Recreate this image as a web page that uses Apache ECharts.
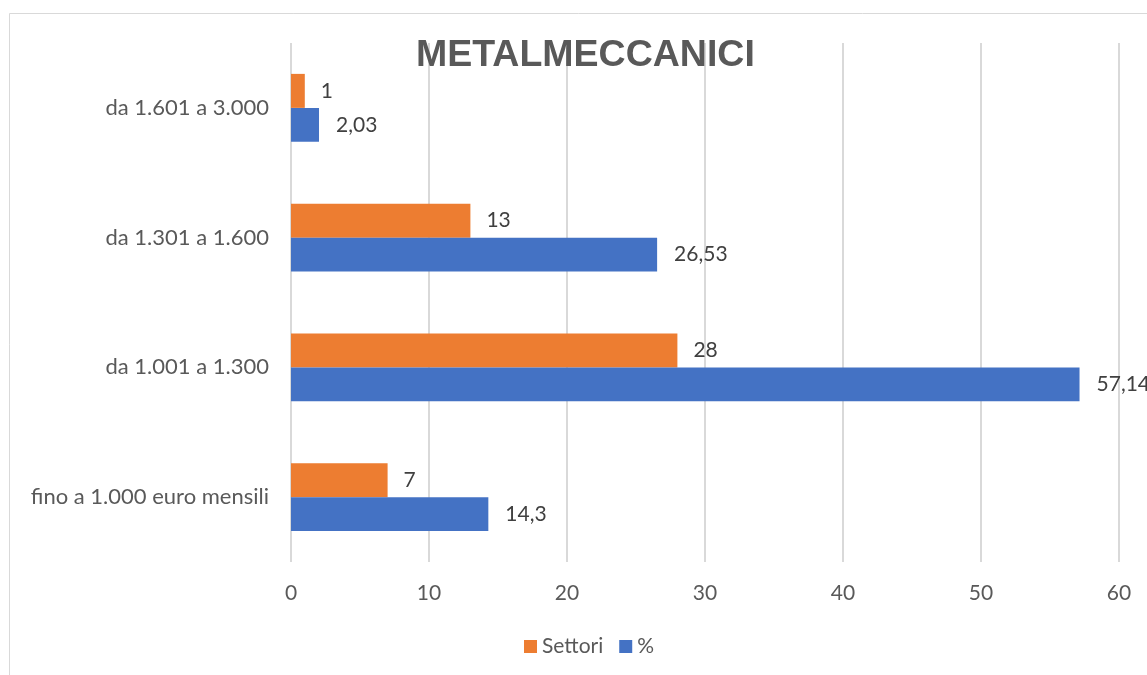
<!DOCTYPE html>
<html><head><meta charset="utf-8">
<script src="https://cdn.jsdelivr.net/npm/echarts@6/dist/echarts.min.js"></script>
<style>html,body{margin:0;padding:0;background:#fff}#c{width:1147px;height:675px}</style>
</head><body><div id="c"></div>
<script>
const categories = ['fino a 1.000 euro mensili', 'da 1.001 a 1.300', 'da 1.301 a 1.600', 'da 1.601 a 3.000'];
const settori = [7, 28, 13, 1];
const percent = [14.3, 57.14, 26.53, 2.03];
const xTicks = [0, 10, 20, 30, 40, 50, 60];

const fmt = v => String(v).replace('.', ',');
const font = 'Lato';
const fs = 21;
const chart = echarts.init(document.getElementById('c'), null, {renderer: 'canvas'});
chart.setOption({
  animation: false,
  backgroundColor: '#fff',
  title: {
    text: 'METALMECCANICI', left: 411, top: 32,
    textStyle: {fontFamily: 'Liberation Sans', fontWeight: 'bold', fontSize: 37.5, color: '#595959'}
  },
  legend: {
    data: ['Settori', '%'], bottom: 13, left: 519,
    itemWidth: 13, itemHeight: 13, itemGap: 16, icon: 'rect',
    textStyle: {fontFamily: font, fontSize: fs, color: '#595959'}
  },
  grid: {left: 291, right: 28, top: 43, bottom: 113, containLabel: false},
  xAxis: {
    type: 'value', min: xTicks[0], max: xTicks[xTicks.length - 1], interval: 10,
    axisLine: {show: false}, axisTick: {show: false},
    splitLine: {lineStyle: {color: '#d9d9d9', width: 2}},
    axisLabel: {fontFamily: font, fontSize: fs, color: '#595959', margin: 21}
  },
  yAxis: {
    type: 'category', data: categories,
    axisLine: {show: false}, axisTick: {show: false},
    axisLabel: {fontFamily: font, fontSize: 22, color: '#595959', margin: 22}
  },
  series: [
    {name: 'Settori', type: 'bar', data: settori, barGap: '0%', barCategoryGap: '47.6%',
     itemStyle: {color: '#ED7D31'},
     label: {show: true, position: 'right', distance: 16, formatter: p => fmt(p.value),
             fontFamily: font, fontSize: fs, color: '#404040'}},
    {name: '%', type: 'bar', data: percent, barGap: '0%', barCategoryGap: '47.6%',
     itemStyle: {color: '#4472C4'},
     label: {show: true, position: 'right', distance: 17, formatter: p => fmt(p.value),
             fontFamily: font, fontSize: fs, color: '#404040'}}
  ],
  graphic: [
    {type: 'polyline', silent: true, z: 100,
     shape: {points: [[9.5, 675], [9.5, 13.5], [1147, 13.5]]},
     style: {stroke: '#d9d9d9', lineWidth: 1, fill: null}}
  ]
});
</script></body></html>
